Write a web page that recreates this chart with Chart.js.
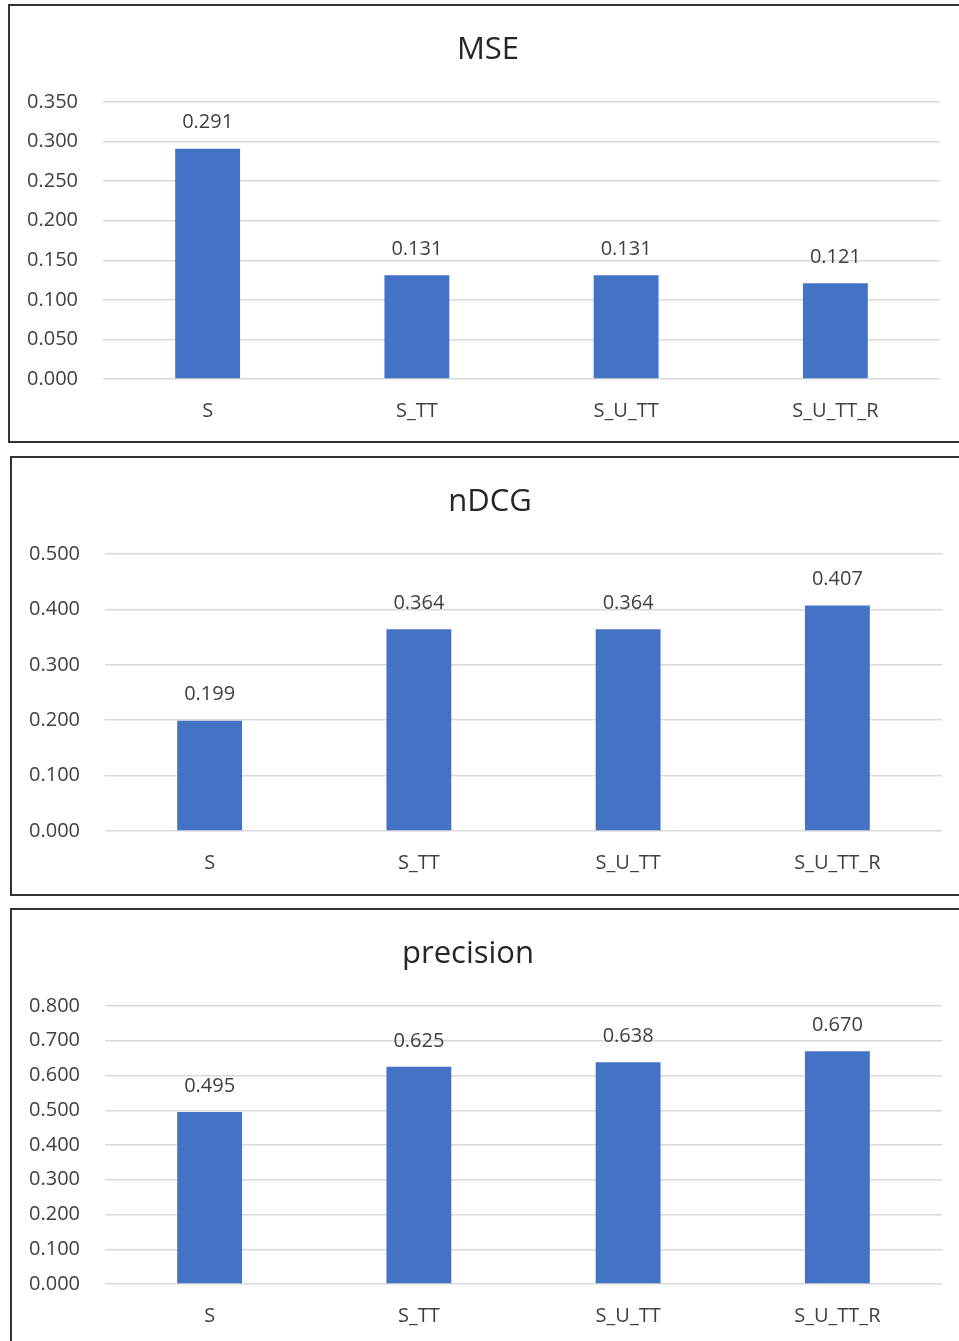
<!DOCTYPE html>
<html>
<head>
<meta charset="utf-8">
<script src="https://cdn.jsdelivr.net/npm/chart.js@4.4.1/dist/chart.umd.min.js"></script>
<style>
  body { margin: 0; background: #fff; width: 959px; height: 1341px; overflow: hidden; position: relative; }
  .panel { position: absolute; border: 2px solid #333; box-sizing: border-box; }
  .wrap { position: absolute; }
</style>
</head>
<body>
<div class="panel" style="left:8px; top:4px; width:960px; height:439px;"></div>
<div class="panel" style="left:10px; top:456px; width:960px; height:440px;"></div>
<div class="panel" style="left:10px; top:908px; width:960px; height:450px;"></div>

<div class="wrap" style="left:10px; top:6px; width:945px; height:434px;"><canvas id="mse-chart"></canvas></div>
<div class="wrap" style="left:12px; top:458px; width:945px; height:435px;"><canvas id="ndcg-chart"></canvas></div>
<div class="wrap" style="left:12px; top:910px; width:945px; height:431px;"><canvas id="precision-chart"></canvas></div>

<script>
// categories shared by all three charts
let categories = ['S', 'S_TT', 'S_U_TT', 'S_U_TT_R']

// values
let mseValues = [0.291, 0.131, 0.131, 0.121]
let ndcgValues = [0.199, 0.364, 0.364, 0.407]
let precisionValues = [0.495, 0.625, 0.638, 0.670]

// y axis ranges / steps
let mseTicks = { max: 0.35, step: 0.05 }
let ndcgTicks = { max: 0.5, step: 0.1 }
let precisionTicks = { max: 0.8, step: 0.1 }

let fontFamily = '"Open Sans", "Noto Sans", sans-serif'
let barColor = '#4472C4'

// draws the number above each bar (no datalabels plugin available)
let valueLabels = {
    id: 'valueLabels',
    afterDatasetsDraw(chart) {
        let ctx = chart.ctx
        let meta = chart.getDatasetMeta(0)
        ctx.save()
        ctx.font = '20px ' + fontFamily
        ctx.fillStyle = '#404040'
        ctx.textAlign = 'center'
        ctx.textBaseline = 'middle'
        meta.data.forEach(function(bar, i) {
            let v = chart.data.datasets[0].data[i]
            ctx.fillText(v.toFixed(3), bar.x, bar.y - 26)
        })
        ctx.restore()
    }
}

// the titles in the picture are not centred on the panel, so draw them by hand
let chartTitle = {
    id: 'chartTitle',
    afterDraw(chart, args, opts) {
        let ctx = chart.ctx
        ctx.save()
        ctx.font = '31px ' + fontFamily
        ctx.fillStyle = '#262626'
        ctx.textAlign = 'center'
        ctx.textBaseline = 'middle'
        ctx.fillText(opts.text, opts.x, 44)
        ctx.restore()
    }
}

function makeChart(id, title, titleX, values, ticks, axisHeight) {
    let ctx = document.getElementById(id).getContext('2d')
    return new Chart(ctx, {
        type: 'bar',
        data: {
            labels: categories,
            datasets: [{
                data: values,
                backgroundColor: barColor,
                barPercentage: 1,
                categoryPercentage: 0.31
            }]
        },
        options: {
            responsive: true,
            maintainAspectRatio: false,
            animation: false,
            layout: { padding: { left: 0, right: 15, top: 96, bottom: 0 } },
            plugins: {
                legend: { display: false },
                tooltip: { enabled: false },
                title: { display: false },
                chartTitle: { text: title, x: titleX }
            },
            scales: {
                x: {
                    grid: { display: false, drawTicks: false },
                    border: { display: false },
                    ticks: { color: '#404040', font: { family: fontFamily, size: 20 }, padding: 20 },
                    afterFit(scale) { scale.height = axisHeight }
                },
                y: {
                    min: 0,
                    max: ticks.max,
                    grid: { color: '#d9d9d9', lineWidth: 1.5, drawTicks: false },
                    border: { display: false },
                    ticks: {
                        stepSize: ticks.step,
                        color: '#404040',
                        font: { family: fontFamily, size: 20 },
                        padding: 25,
                        callback: v => v.toFixed(3)
                    },
                    afterFit(scale) { scale.width = 93 }
                }
            }
        },
        plugins: [valueLabels, chartTitle]
    })
}

makeChart('mse-chart', 'MSE', 478, mseValues, mseTicks, 61)
makeChart('ndcg-chart', 'nDCG', 478, ndcgValues, ndcgTicks, 62)
makeChart('precision-chart', 'precision', 456, precisionValues, precisionTicks, 57)
</script>
</body>
</html>
